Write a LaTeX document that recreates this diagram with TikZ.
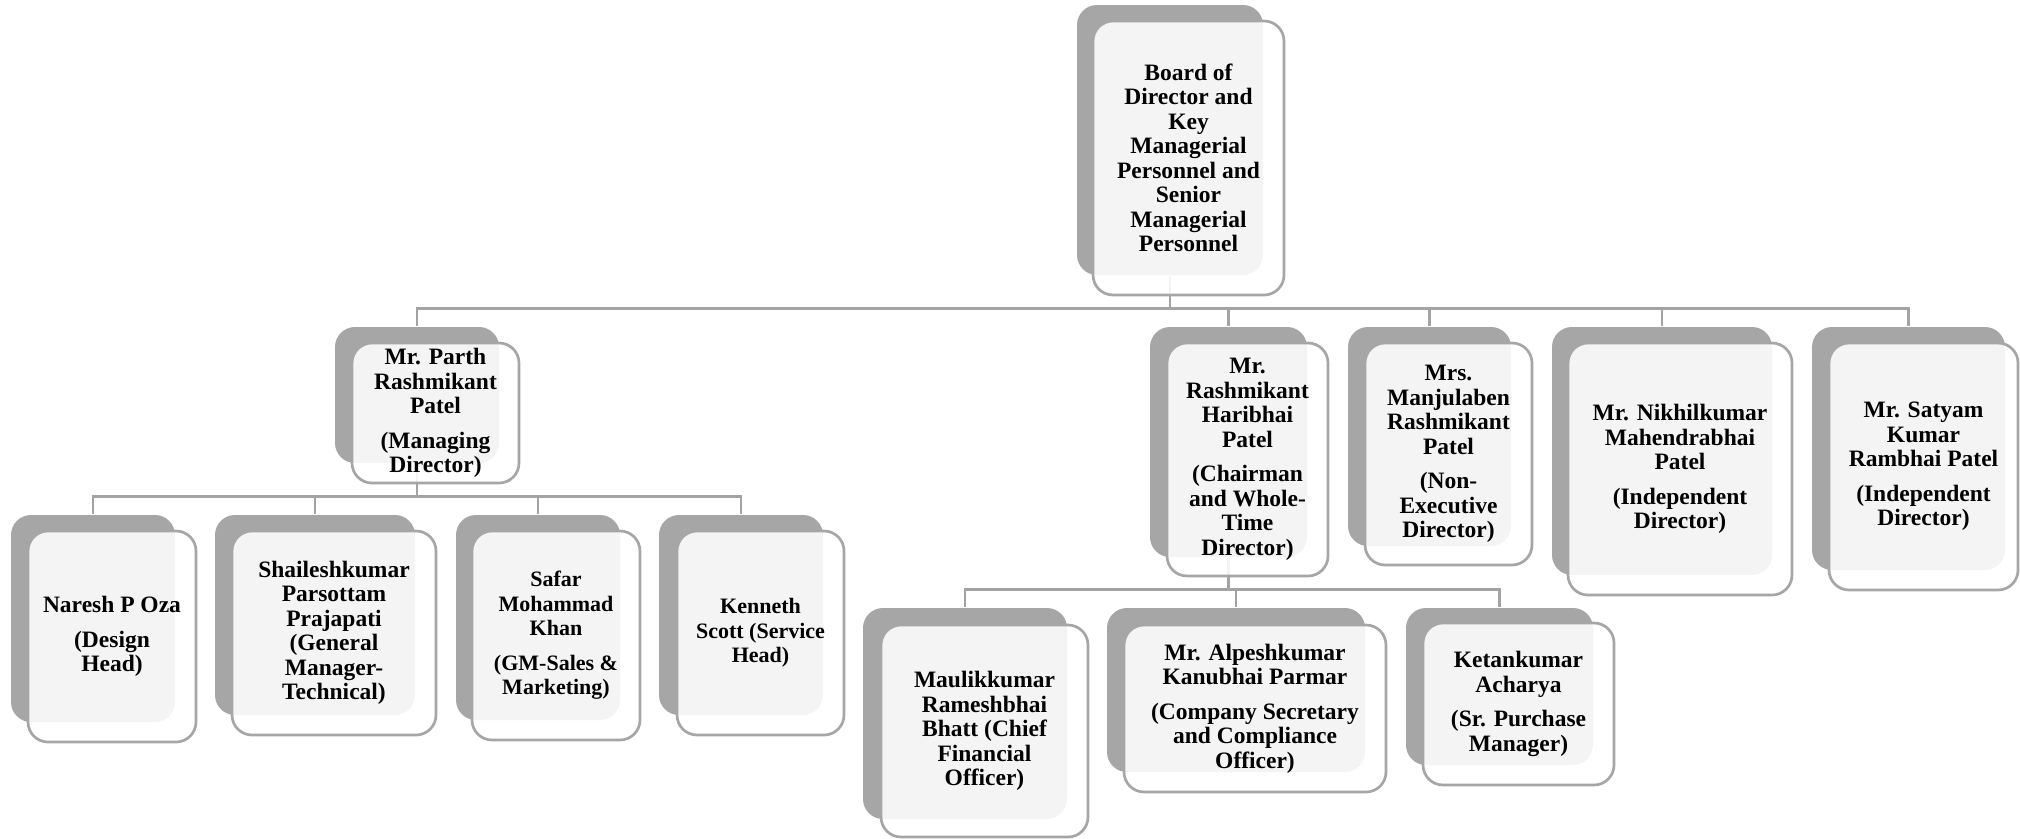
\documentclass[tikz,border=0pt]{standalone}
\usepackage{fontspec}
\setmainfont{Liberation Serif}
\definecolor{shade}{HTML}{A6A6A6}
\definecolor{rim}{HTML}{A6A6A6}
\definecolor{wire}{HTML}{A3A3A3}
\begin{document}
\begin{tikzpicture}[x=1pt, y=-1pt, line width=2.7pt,
  back/.style={fill=shade, rounded corners=20pt, inner sep=0pt},
  front/.style={draw=rim, fill=white, fill opacity=0.88, text opacity=1, rounded corners=20pt, inner sep=0pt, align=center, font=\fontsize{23.5}{24.5}\selectfont\bfseries},
  narrow/.style={font=\fontsize{22}{24.5}\selectfont\bfseries}]
\useasboundingbox (0,0) rectangle (2020,838);
% back plates
\node[back, minimum width=186pt, minimum height=270pt] (boardb) at (1170,140) {};
\node[back, minimum width=164pt, minimum height=136pt] (parthb) at (417,395) {};
\node[back, minimum width=157pt, minimum height=230pt] (rashb) at (1228.5,442) {};
\node[back, minimum width=163pt, minimum height=219pt] (manjub) at (1429.5,436.5) {};
\node[back, minimum width=220pt, minimum height=248pt] (nikhilb) at (1662,451) {};
\node[back, minimum width=193pt, minimum height=243pt] (satyamb) at (1908.5,448.5) {};
\node[back, minimum width=164pt, minimum height=207pt] (nareshb) at (93,618.5) {};
\node[back, minimum width=200pt, minimum height=200pt] (shaileshb) at (315,615) {};
\node[back, minimum width=164pt, minimum height=205pt] (safarb) at (538,617.5) {};
\node[back, minimum width=164pt, minimum height=200pt] (kennethb) at (741,615) {};
\node[back, minimum width=204pt, minimum height=211pt] (maulikb) at (965,713.5) {};
\node[back, minimum width=258pt, minimum height=164pt] (alpeshb) at (1236,690) {};
\node[back, minimum width=187pt, minimum height=157pt] (ketanb) at (1499.5,686.5) {};
% connectors
\foreach \i/\j in {boardb/parthb,boardb/rashb,boardb/manjub,boardb/nikhilb,boardb/satyamb,parthb/nareshb,parthb/shaileshb,parthb/safarb,parthb/kennethb,rashb/maulikb,rashb/alpeshb,rashb/ketanb}{\draw[wire] (\i.south) |- ([yshift=17pt]\j.north) -- (\j.north);}
% front cards
\node[front, minimum width=191pt, minimum height=274pt] (board) at (1188.5,158) {Board of\\Director and\\Key\\Managerial\\Personnel and\\Senior\\Managerial\\Personnel};
\node[front, minimum width=167pt, minimum height=140pt] (parth) at (435.5,413) {Mr. Parth\\Rashmikant\\Patel\\[10pt](Managing\\Director)};
\node[front, minimum width=161pt, minimum height=233pt] (rash) at (1247.5,459.5) {Mr.\\Rashmikant\\Haribhai\\Patel\\[10pt](Chairman\\and Whole-\\Time\\Director)};
\node[front, minimum width=167pt, minimum height=222pt] (manju) at (1448.5,454) {Mrs.\\Manjulaben\\Rashmikant\\Patel\\[10pt](Non-\\Executive\\Director)};
\node[front, minimum width=224pt, minimum height=252pt] (nikhil) at (1680,469) {Mr. Nikhilkumar\\Mahendrabhai\\Patel\\[10pt](Independent\\Director)};
\node[front, minimum width=189pt, minimum height=247pt] (satyam) at (1923.5,466.5) {Mr. Satyam\\Kumar\\Rambhai Patel\\[10pt](Independent\\Director)};
\node[front, minimum width=168pt, minimum height=211pt] (naresh) at (112,636.5) {Naresh P Oza\\[10pt](Design\\Head)};
\node[front, minimum width=204pt, minimum height=204pt] (shailesh) at (334,633) {Shaileshkumar\\Parsottam\\Prajapati\\(General\\Manager-\\Technical)};
\node[front, narrow, minimum width=168pt, minimum height=209pt] (safar) at (556,635.5) {Safar\\Mohammad\\Khan\\[10pt](GM-Sales \&\\Marketing)};
\node[front, narrow, minimum width=167pt, minimum height=204pt] (kenneth) at (760.5,633) {Kenneth\\Scott (Service\\Head)};
\node[front, minimum width=207pt, minimum height=212pt] (maulik) at (984.5,731) {Maulikkumar\\Rameshbhai\\Bhatt (Chief\\Financial\\Officer)};
\node[front, minimum width=262pt, minimum height=167pt] (alpesh) at (1255,708.5) {Mr. Alpeshkumar\\Kanubhai Parmar\\[10pt](Company Secretary\\and Compliance\\Officer)};
\node[front, minimum width=191pt, minimum height=162pt] (ketan) at (1518.5,704) {Ketankumar\\Acharya\\[10pt](Sr. Purchase\\Manager)};
\end{tikzpicture}
\end{document}
